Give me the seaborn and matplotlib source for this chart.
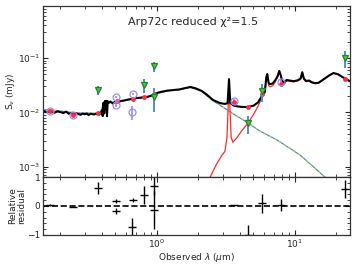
import numpy as np
import pandas as pd
import matplotlib
matplotlib.use('Agg')
import matplotlib.pyplot as plt
import seaborn as sns

# model spectrum (total)
lam_total = [0.15, 0.16, 0.17, 0.18, 0.19, 0.20, 0.21, 0.22, 0.23, 0.24, 0.25, 0.26, 0.27,
             0.28, 0.29, 0.30, 0.31, 0.32, 0.33, 0.34, 0.35, 0.36, 0.37, 0.38, 0.39, 0.40,
             0.405, 0.41, 0.415, 0.42, 0.425, 0.43, 0.435, 0.44, 0.45, 0.46, 0.48, 0.50,
             0.52, 0.55, 0.58, 0.62, 0.65, 0.68, 0.72, 0.76, 0.80, 0.85, 0.90, 0.95, 1.0,
             1.05, 1.1, 1.2, 1.3, 1.45, 1.6, 1.75, 1.9, 2.1, 2.3, 2.55, 2.86, 3.1, 3.25,
             3.33, 3.4, 3.6, 3.8, 4.1, 4.5, 5.0, 5.4, 5.8, 6.05, 6.2, 6.3, 6.45, 6.6, 6.9,
             7.2, 7.5, 7.7, 7.9, 8.1, 8.4, 8.7, 9.2, 9.8, 10.5, 11.0, 11.3, 11.6, 12.0,
             12.7, 13.2, 14.0, 14.8, 16.0, 17.5, 19.0, 20.5, 22.0, 23.5, 25.0]
flux_total = [0.0108, 0.0100, 0.0106, 0.0098, 0.0104, 0.0101, 0.0097, 0.0103, 0.0094, 0.0097,
              0.0092, 0.0096, 0.0093, 0.0090, 0.0095, 0.0092, 0.0095, 0.0089, 0.0094, 0.0093,
              0.0091, 0.0094, 0.0092, 0.0095, 0.0094, 0.0110, 0.0085, 0.0150, 0.0095, 0.0162,
              0.0110, 0.0163, 0.0085, 0.0160, 0.0150, 0.0158, 0.0145, 0.0157, 0.0153, 0.0162,
              0.0165, 0.0172, 0.0175, 0.0181, 0.0184, 0.0186, 0.0190, 0.0193, 0.0200, 0.0215,
              0.0227, 0.0235, 0.0242, 0.0252, 0.0257, 0.0264, 0.0280, 0.0293, 0.0278, 0.0250,
              0.0212, 0.0169, 0.0148, 0.0143, 0.0147, 0.0410, 0.0150, 0.0133, 0.0129, 0.0126,
              0.0125, 0.0132, 0.0152, 0.0205, 0.0240, 0.0440, 0.0510, 0.0350, 0.0330, 0.0340,
              0.0390, 0.0470, 0.0580, 0.0480, 0.0370, 0.0355, 0.0395, 0.0385, 0.0375, 0.0390,
              0.0420, 0.0550, 0.0420, 0.0380, 0.0385, 0.0360, 0.0345, 0.0350, 0.0400, 0.0470,
              0.0530, 0.0505, 0.0450, 0.0410, 0.0375]

# stellar emission
lam_star = [0.15, 0.17, 0.19, 0.21, 0.23, 0.25, 0.28, 0.31, 0.34, 0.37, 0.39, 0.41, 0.45,
            0.5, 0.6, 0.7, 0.8, 0.9, 1.0, 1.2, 1.45, 1.75, 2.1, 2.55, 2.86, 3.3, 3.8,
            4.49, 5.5, 7.4, 10.9, 16.5, 25.0]
flux_star = [0.0113, 0.0110, 0.0108, 0.0104, 0.0101, 0.0099, 0.0097, 0.0097, 0.0096, 0.0096,
             0.0097, 0.0150, 0.0152, 0.0155, 0.0168, 0.0180, 0.0188, 0.0198, 0.0222, 0.0248,
             0.0260, 0.0288, 0.0245, 0.0162, 0.0136, 0.0107, 0.0085, 0.0066, 0.0046, 0.0031,
             0.00163, 0.00064, 0.00036]

# dust emission
lam_dust = [2.2, 2.42, 2.7, 2.95, 3.11, 3.22, 3.28, 3.33, 3.38, 3.45, 3.55, 3.8, 4.1, 4.5,
            5.0, 5.4, 5.8, 6.05, 6.2, 6.3, 6.45, 6.6, 6.9, 7.2, 7.5, 7.7, 7.9, 8.1, 8.4,
            8.7, 9.2, 9.8, 10.5, 11.0, 11.3, 11.6, 12.0, 12.7, 13.2, 14.0, 14.8, 16.0,
            17.5, 19.0, 20.5, 22.0, 23.5, 25.0]
flux_dust = [0.0003, 0.00062, 0.0011, 0.0016, 0.0019, 0.0035, 0.012, 0.032, 0.012, 0.0035,
             0.0028, 0.0034, 0.0045, 0.0060, 0.0090, 0.0130, 0.0190, 0.0225, 0.0420, 0.0490,
             0.0310, 0.0295, 0.0310, 0.0365, 0.0450, 0.0560, 0.0460, 0.0350, 0.0340, 0.0380,
             0.0372, 0.0365, 0.0380, 0.0410, 0.0540, 0.0410, 0.0370, 0.0377, 0.0353, 0.0338,
             0.0344, 0.0395, 0.0466, 0.0527, 0.0502, 0.0445, 0.0406, 0.0372]

# model fluxes
lam_mod = [0.168, 0.246, 0.374, 0.513, 0.67, 0.805, 0.951, 3.61, 4.56, 5.77, 7.92, 23.0]
flux_mod = [0.0106, 0.0090, 0.0097, 0.0162, 0.0176, 0.0191, 0.0218, 0.0155, 0.0125, 0.0218,
            0.0340, 0.0410]

# observed fluxes (circles)
lam_obs = [0.168, 0.246, 0.505, 0.505, 0.659, 0.67, 3.61, 7.92]
flux_obs = [0.0106, 0.0089, 0.0192, 0.0137, 0.0101, 0.0217, 0.0162, 0.0362]
err_obs = [0.0003, 0.0003, 0.0012, 0.0012, 0.0030, 0.0012, 0.0014, 0.0030]

# other observed fluxes (triangles)
lam_tri = [0.374, 0.805, 0.951, 0.951, 4.56, 5.77, 23.0]
flux_tri = [0.0255, 0.0316, 0.071, 0.0190, 0.0063, 0.0245, 0.100]
err_tri = [0.0045, 0.0090, 0.015, 0.0090, 0.0023, 0.0090, 0.035]

# relative residuals
lam_res = [0.168, 0.246, 0.374, 0.505, 0.505, 0.659, 0.67, 0.805, 0.951, 0.951, 3.61, 4.56,
           5.77, 7.92, 23.0]
res = [0.03, -0.03, 0.62, 0.17, -0.17, -0.72, 0.2, 0.38, 0.69, -0.14, 0.03, -1.0, 0.1, 0.03,
       0.59]
res_err = [0.03, 0.02, 0.2, 0.06, 0.1, 0.3, 0.06, 0.3, 0.3, 0.65, 0.02, 0.35, 0.33, 0.2, 0.3]

sns.set_style('ticks')
plt.rcParams['font.family'] = ['DejaVu Sans']
plt.rcParams['mathtext.fontset'] = 'dejavusans'

fig = plt.figure(figsize=(3.57, 2.67), dpi=100)
ax1 = fig.add_axes([0.121, 0.337, 0.859, 0.641])
ax2 = fig.add_axes([0.121, 0.120, 0.859, 0.217], sharex=ax1)

ax1.set_xscale('log')
ax1.set_yscale('log')

sns.lineplot(x=lam_star, y=flux_star, ax=ax1, color='#2e86de', lw=0.8, sort=False,
             estimator=None)
sns.lineplot(x=lam_star, y=flux_star, ax=ax1, color='#f5c400', lw=0.8, sort=False,
             estimator=None, linestyle=(0, (2, 3)))
sns.lineplot(x=lam_dust, y=flux_dust, ax=ax1, color='#ff2a2a', lw=0.9, sort=False,
             estimator=None)
sns.lineplot(x=lam_total, y=flux_total, ax=ax1, color='black', lw=1.5, sort=False,
             estimator=None)

ax1.errorbar(lam_obs, flux_obs, yerr=err_obs, fmt='none', ecolor='#a08ce6', elinewidth=1.2)
ax1.plot(lam_mod, flux_mod, 'o', color='#ff2a4a', ms=3.5, mew=0)
ax1.plot(lam_obs, flux_obs, 'o', mfc='none', mec='#a08ce6', ms=5, mew=0.9)
ax1.errorbar(lam_tri, flux_tri, yerr=err_tri, fmt='none', ecolor='#4a90d9', elinewidth=1.4)
ax1.plot(lam_tri, flux_tri, 'v', mfc='#5cb85c', mec='#1a8a1a', ms=5, mew=0.9)

ax1.set_xlim(0.15, 25)
ax1.set_ylim(6.4e-4, 0.92)
ax1.set_ylabel(r'S$_\nu$ (mJy)', fontsize=6.5, labelpad=1)
ax1.text(0.49, 0.905, 'Arp72c reduced χ²=1.5', transform=ax1.transAxes,
         ha='center', va='center', fontsize=8)
ax1.tick_params(which='both', direction='in', top=True, right=True, labelsize=6.5,
                labelbottom=False, pad=2)
ax1.tick_params(which='major', length=3.5)
ax1.tick_params(which='minor', length=2)

ax2.axhline(0, color='black', lw=1.2, ls='--')
ax2.errorbar(lam_res, res, yerr=res_err, fmt='_', color='black', ms=6, mew=1, elinewidth=1)
ax2.set_ylim(-1, 1)
ax2.set_yticks([-1, 0, 1])
ax2.set_yticks([-0.8, -0.6, -0.4, -0.2, 0.2, 0.4, 0.6, 0.8], minor=True)
ax2.set_ylabel('Relative\nresidual', fontsize=6.5, labelpad=1, linespacing=0.95)
ax2.set_xlabel(r'Observed $\lambda$ ($\mu$m)', fontsize=6.5, labelpad=0.5)
ax2.tick_params(which='both', direction='in', top=True, right=True, labelsize=6.5, pad=2)
ax2.tick_params(which='major', length=3.5)
ax2.tick_params(which='minor', length=2)

for a in (ax1, ax2):
    for s in a.spines.values():
        s.set_linewidth(0.9)
        s.set_color('#333333')

plt.savefig('out.png', dpi=100)
